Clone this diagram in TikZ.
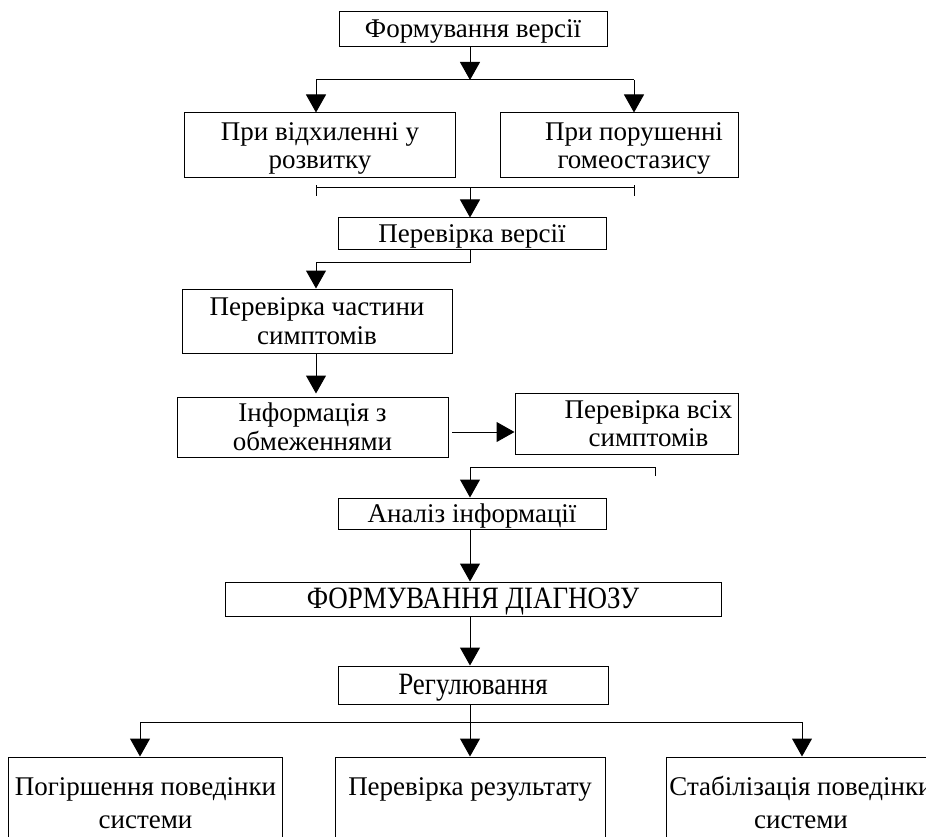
\documentclass[tikz,border=0pt]{standalone}
\usepackage{fontspec}
\usepackage{graphicx}
\setmainfont{Liberation Serif}
\usetikzlibrary{arrows.meta}
\tikzset{
  box/.style={draw, line width=1pt, rectangle, inner sep=0pt, align=center, font=\fontsize{27}{28.5}\selectfont},
  sbox/.style={box, text height=21pt, text depth=3pt},
  txt/.style={inner sep=0pt, align=center, font=\fontsize{27}{28.5}\selectfont},
  btxt/.style={inner sep=0pt, align=center, font=\fontsize{27}{32.5}\selectfont},
  arr/.style={line width=1pt, -{Triangle[length=18pt,width=20pt]}},
  ln/.style={line width=1pt}
}
\newcommand{\tallrow}[1]{\scalebox{1}[1.15]{#1}}
\newcommand{\firstl}{\rule{0pt}{21pt}}
\newcommand{\twol}[2]{\rule{0pt}{21pt}#1\\\raisebox{0pt}[\height][0pt]{#2}\rule[-3pt]{0pt}{3pt}}
\begin{document}
\begin{tikzpicture}[x=1pt,y=-1pt]
\useasboundingbox (0,0) rectangle (926,837);
\clip (0,0) rectangle (926,837);
\node[sbox, minimum width=268pt, minimum height=35pt] (b1) at (473,29) {Формування версії};
\node[box, minimum width=271pt, minimum height=65pt] (b2) at (320,145.5) {\twol{При відхиленні у}{розвитку}};
\node[box, minimum width=238pt, minimum height=65pt] (b3) at (619,145.5) {};
\node[txt] (t3) at ([xshift=15pt]b3.center) {\twol{При порушенні}{гомеостазису}};
\node[sbox, minimum width=268pt, minimum height=31pt] (b4) at (472,233.5) {Перевірка версії};
\node[box, minimum width=270pt, minimum height=64pt] (b5) at (317,321) {\twol{Перевірка частини}{симптомів}};
\node[box, minimum width=271pt, minimum height=60pt] (b6) at (312.5,427) {\twol{Інформація з}{обмеженнями}};
\node[box, minimum width=223pt, minimum height=61pt] (b7) at (626.5,423.5) {};
\node[txt] (t7) at ([xshift=22pt]b7.center) {\twol{Перевірка всіх}{симптомів}};
\node[sbox, minimum width=268pt, minimum height=31pt] (b8) at (472,513.5) {Аналіз інформації};
\node[sbox, minimum width=496pt, minimum height=34pt] (b9) at (473,599) {\tallrow{ФОРМУВАННЯ ДІАГНОЗУ}};
\node[sbox, minimum width=270pt, minimum height=38pt] (b10) at (473,685) {\tallrow{Регулювання}};
\node[box, minimum width=274pt, minimum height=100pt] (b11) at (145.5,807) {};
\node[box, minimum width=270pt, minimum height=100pt] (b12) at (470,807) {};
\node[box, minimum width=270pt, minimum height=100pt] (b13) at (801,807) {};
\node[btxt, anchor=north] (t11) at ([yshift=-18pt]b11.north) {\firstl Погіршення поведінки\\системи};
\node[btxt, anchor=north] (t12) at ([yshift=-18pt]b12.north) {\firstl Перевірка результату};
\node[btxt, anchor=north] (t13) at ([yshift=-18pt]b13.north) {\firstl Стабілізація поведінки\\системи};
% junctions
\coordinate (j1) at (470,80);
\coordinate (j1l) at (316,80);
\coordinate (j1r) at (634,80);
\coordinate (k1l) at (316,188);
\coordinate (k1r) at (634,188);
\coordinate (k1) at (470,188);
\coordinate (j2) at (470,262);
\coordinate (j2l) at (316,262);
\coordinate (h6) at (452,432);
\coordinate (k2r) at (655,467);
\coordinate (k2) at (470,467);
\coordinate (j3) at (470,722);
\coordinate (j3l) at (140,722);
\coordinate (j3r) at (802,722);
\draw[arr] (j1 |- b1.south) -- (j1);
\draw[ln] (j1l) -- (j1r);
\draw[arr] (j1l) -- (j1l |- b2.north);
\draw[arr] (j1r) -- (j1r |- b3.north);
\draw[ln] ([yshift=-8pt]k1l) -- ([yshift=3pt]k1l);
\draw[ln] ([yshift=-8pt]k1r) -- ([yshift=3pt]k1r);
\draw[ln] (k1l) -- (k1r);
\draw[arr] (k1) -- (k1 |- b4.north);
\draw[ln] (j2 |- b4.south) -- (j2) -- (j2l);
\draw[arr] (j2l) -- (j2l |- b5.north);
\draw[arr] (j2l |- b5.south) -- ([yshift=3pt]j2l |- b6.north);
\draw[arr] (h6) -- (h6 -| b7.west);
\draw[ln] ([yshift=-9pt]k2r) -- (k2r) -- (k2);
\draw[arr] (k2) -- (k2 |- b8.north);
\draw[arr] (k2 |- b8.south) -- (k2 |- b9.north);
\draw[arr] (k2 |- b9.south) -- (k2 |- b10.north);
\draw[ln] (j3 |- b10.south) -- (j3);
\draw[ln] (j3l) -- (j3r);
\draw[arr] (j3l) -- (j3l |- b11.north);
\draw[arr] (j3) -- (j3 |- b12.north);
\draw[arr] (j3r) -- (j3r |- b13.north);
\end{tikzpicture}
\end{document}
